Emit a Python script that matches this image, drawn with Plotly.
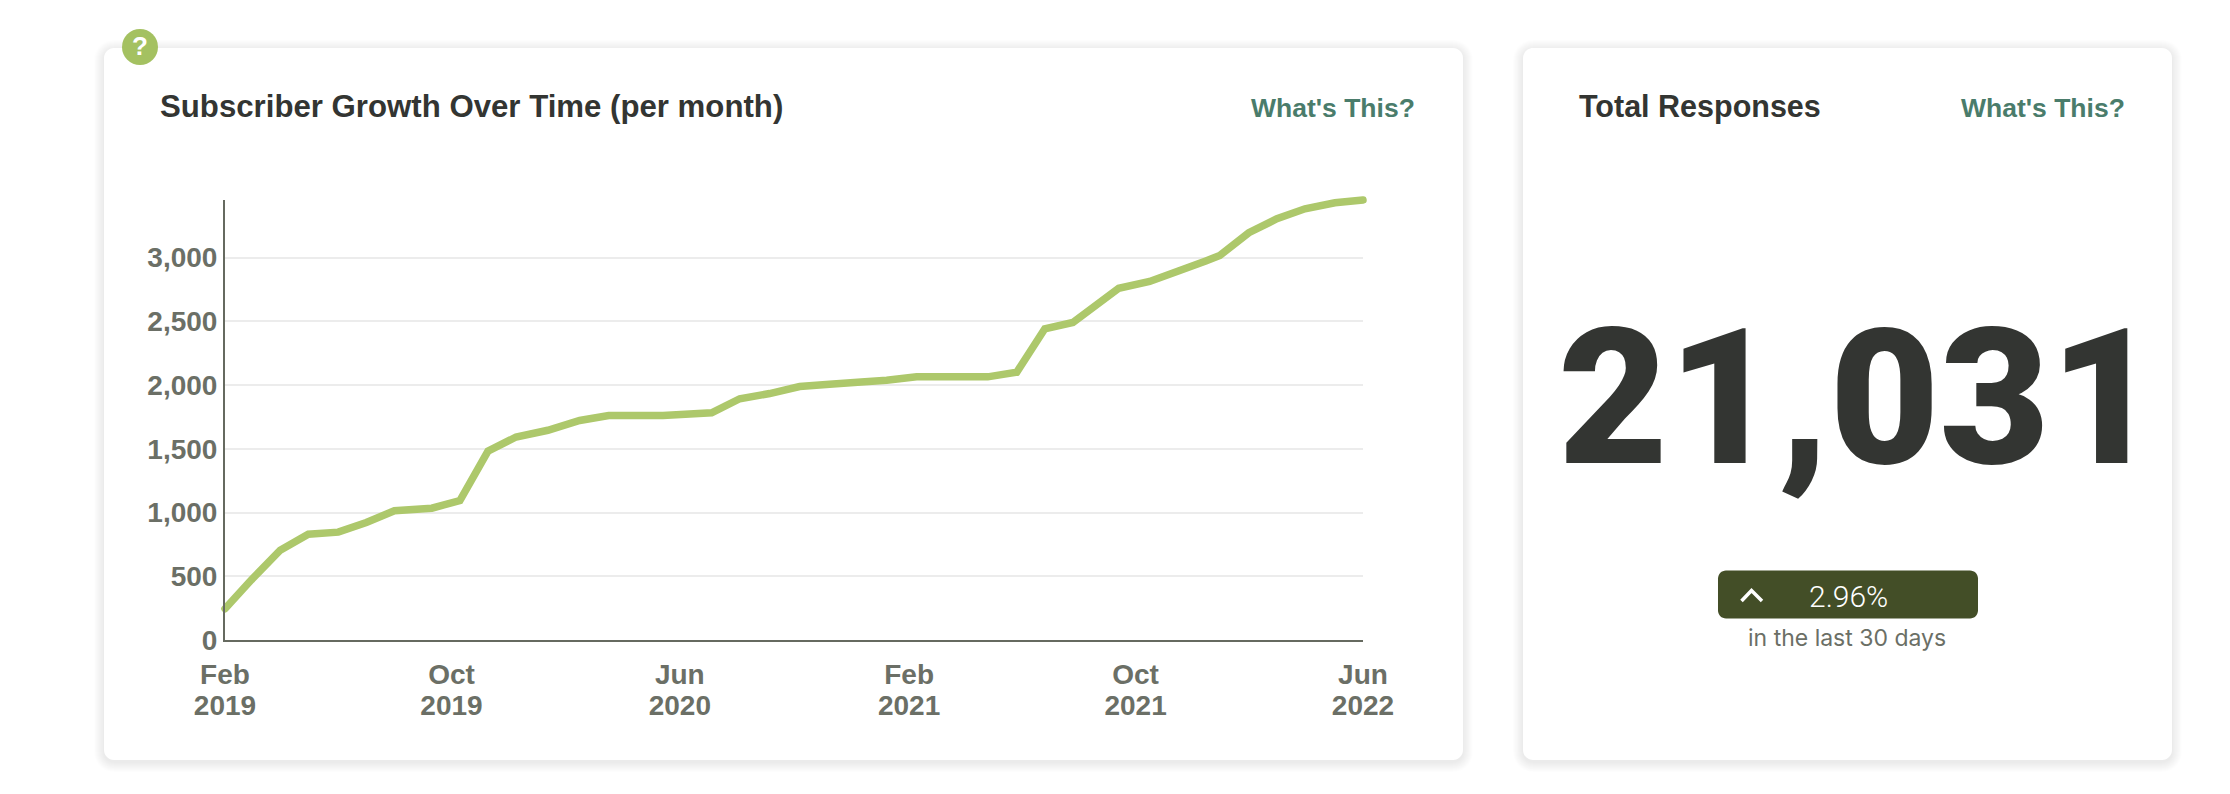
import plotly.graph_objects as go

# ---- data ----
dates = ["2019-02-01","2019-03-01","2019-04-01","2019-05-01","2019-06-02","2019-07-02","2019-08-01",
         "2019-09-10","2019-10-10","2019-11-09","2019-12-09","2020-01-12","2020-02-15","2020-03-17",
         "2020-05-14","2020-07-05","2020-08-04","2020-09-05","2020-10-07","2020-11-08","2020-12-08",
         "2021-01-08","2021-02-09","2021-04-26","2021-05-27","2021-06-26","2021-07-26","2021-09-13",
         "2021-10-16","2021-11-15","2021-12-15","2021-12-30","2022-01-30","2022-03-01","2022-03-31",
         "2022-05-02","2022-06-01"]
subscribers = [245,470,704,830,846,922,1014,1034,1094,1481,1592,1645,1722,1761,1761,1782,1892,1933,
               1988,2006,2022,2038,2064,2064,2100,2441,2490,2759,2812,2892,2973,3016,3194,3304,3382,
               3429,3451]
tick_dates = ["2019-02-01","2019-10-01","2020-06-01","2021-02-01","2021-10-01","2022-06-01"]
tick_months = ["Feb","Oct","Jun","Feb","Oct","Jun"]
tick_years = ["2019","2019","2020","2021","2021","2022"]
y_ticks = [0,500,1000,1500,2000,2500,3000]
y_labels = ["0","500","1,000","1,500","2,000","2,500","3,000"]
chart_title = "Subscriber Growth Over Time (per month)"
card_title = "Total Responses"
link_text = "What's This?"
total_responses = "21,031"
change_text = "2.96%"
period_text = "in the last 30 days"

W, H = 2230, 794
L, R, T, B = 225, 1363, 200, 640
def X(p): return (p - L) / (R - L)
def Y(p): return (B - p) / (B - T)

def rrect(x0, y0, x1, y1, r):
    k = 0.45 * r
    pts = [("M", x0 + r, y0), ("L", x1 - r, y0),
           ("C", x1 - k, y0, x1, y0 + k, x1, y0 + r), ("L", x1, y1 - r),
           ("C", x1, y1 - k, x1 - k, y1, x1 - r, y1), ("L", x0 + r, y1),
           ("C", x0 + k, y1, x0, y1 - k, x0, y1 - r), ("L", x0, y0 + r),
           ("C", x0, y0 + k, x0 + k, y0, x0 + r, y0)]
    out = []
    for p in pts:
        coords = p[1:]
        s = " ".join(f"{X(coords[i]):.5f},{Y(coords[i+1]):.5f}" for i in range(0, len(coords), 2))
        out.append(p[0] + " " + s)
    return " ".join(out) + " Z"

shapes = []
def card(x0, y0, x1, y1):
    for i in range(10, 0, -1):
        shapes.append(dict(type="path", xref="paper", yref="paper", layer="below",
                           path=rrect(x0 - i, y0 - i + 2, x1 + i, y1 + i + 2, 10 + i),
                           fillcolor="rgba(0,0,0,0.009)", line=dict(width=0)))
    shapes.append(dict(type="path", xref="paper", yref="paper", layer="below",
                       path=rrect(x0, y0, x1, y1, 10), fillcolor="#ffffff", line=dict(width=0)))
card(104, 48, 1463, 760)
card(1523, 48, 2172, 760)
shapes.append(dict(type="path", xref="paper", yref="paper", layer="below",
                   path=rrect(1718, 570.5, 1978, 618.5, 8), fillcolor="#434e27", line=dict(width=0)))
shapes.append(dict(type="path", xref="paper", yref="paper", layer="above",
                   path=f"M {X(1741.5):.5f},{Y(601):.5f} L {X(1751.5):.5f},{Y(590.5):.5f} L {X(1762):.5f},{Y(601):.5f}",
                   line=dict(color="#ffffff", width=3.5)))
shapes.append(dict(type="circle", xref="paper", yref="paper", layer="above",
                   x0=X(122), x1=X(158), y0=Y(29), y1=Y(65), fillcolor="#a4c161", line=dict(width=0)))

def note(text, x, y, size, color, anchor="left", family="Liberation Sans", weight=None):
    font = dict(family=family, size=size, color=color)
    if weight: font["weight"] = weight
    return dict(text=text, x=X(x), y=Y(y), xref="paper", yref="paper", xanchor=anchor, yanchor="middle",
                showarrow=False, font=font)

annotations = [
    note("?", 140, 46, 26, "#ffffff", "center", weight=700),
    note(chart_title, 158, 107, 31.2, "#333532", weight=700),
    note(link_text, 1417, 108, 26.5, "#4a7c6b", "right", weight=700),
    note(card_title, 1577, 107, 30.5, "#333532", weight=700),
    note(link_text, 2127, 108, 26.5, "#4a7c6b", "right", weight=700),
    note(total_responses, 1859, 398, 190, "#333532", "center", family="Roboto", weight=900),
    note(change_text, 1848, 596, 30, "#ffffff", "center", family="Roboto", weight=300),
    note(period_text, 1847, 638, 23, "#6b6f66", "center", family="Inter", weight=400),
]

fig = go.Figure()
fig.add_trace(go.Scatter(x=dates, y=subscribers, mode="lines", cliponaxis=False, showlegend=False,
                         line=dict(color="#adc86b", width=7.5, simplify=False), hoverinfo="skip"))
fig.add_trace(go.Scatter(x=dates, y=subscribers, xaxis="x2", mode="lines", showlegend=False,
                         cliponaxis=False, hoverinfo="skip", line=dict(width=0), opacity=0))

tick_font = dict(family="Liberation Sans", size=28, color="#6b6f66", weight=700)
xrange = [tick_dates[0], tick_dates[-1]]
fig.update_layout(
    width=W, height=H, autosize=False,
    margin=dict(l=L, r=W - R, t=T, b=H - B, pad=0),
    paper_bgcolor="#ffffff", plot_bgcolor="rgba(0,0,0,0)", hovermode=False, showlegend=False,
    xaxis=dict(type="date", range=xrange, tickmode="array", tickvals=tick_dates, ticktext=tick_months,
               tickfont=tick_font, showgrid=False, zeroline=False, showline=True, linecolor="#666a60",
               linewidth=2, ticks="", ticklabelstandoff=8, tickangle=0),
    xaxis2=dict(type="date", range=xrange, overlaying="x", side="bottom", anchor="y", tickmode="array",
                tickvals=tick_dates, ticktext=tick_years, tickfont=tick_font, showgrid=False,
                zeroline=False, showline=False, ticks="", ticklabelstandoff=46, tickangle=0),
    yaxis=dict(range=[0, 3451], tickmode="array", tickvals=y_ticks, ticktext=y_labels, tickfont=tick_font,
               showgrid=True, gridcolor="#ececec", gridwidth=2, zeroline=False, showline=True,
               linecolor="#666a60", linewidth=2, ticks="", ticklabelstandoff=0),
    shapes=shapes, annotations=annotations,
)
fig.write_html("out.html", config={"displayModeBar": False},
               post_script="document.body.style.margin='0';document.body.style.overflow='hidden';"
                           "document.querySelectorAll('.cartesianlayer *').forEach(function(e){e.removeAttribute('clip-path');});"
                           "document.querySelectorAll('.scatterlayer path.js-line').forEach(function(p){p.style.strokeLinecap='round';});")
